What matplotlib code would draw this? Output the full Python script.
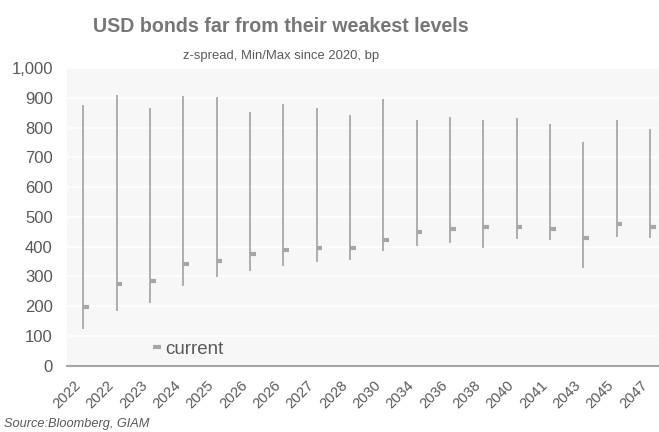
import matplotlib
matplotlib.use("Agg")
import matplotlib.pyplot as plt
import numpy as np

plt.rcParams['font.family'] = ['Liberation Sans', 'DejaVu Sans']

maturity = ['2022', '2022', '2023', '2024', '2025', '2026', '2026', '2027', '2028',
            '2030', '2034', '2036', '2038', '2040', '2041', '2043', '2045', '2047']
spread_max = [876, 909, 865, 906, 901, 852, 880, 866, 842,
              896, 825, 836, 825, 833, 813, 750, 825, 795]
spread_min = [122, 185, 210, 269, 298, 318, 334, 349, 354,
              385, 403, 413, 396, 426, 422, 327, 433, 430]
current = [197, 274, 284, 341, 352, 374, 388, 395, 396,
           422, 448, 458, 466, 467, 458, 428, 475, 466]

txt = '#595959'
line_col = '#9a9a9a'
dash_col = '#a6a6a6'

fig = plt.figure(figsize=(6.59, 4.32), dpi=100)
ax = fig.add_axes([66.7 / 659, 1 - 365.7 / 432, 600 / 659, 297.7 / 432])
ax.set_facecolor('#f7f7f7')

x = np.arange(len(maturity))
ax.vlines(x, spread_min, spread_max, color=line_col, lw=1.1, zorder=3)
ax.hlines(current, x, x + 0.17, color=dash_col, lw=3, zorder=4, label='current')

ax.set_xlim(-0.5, len(maturity) - 0.5)
ax.set_ylim(0, 1000)
ax.set_yticks(np.arange(0, 1001, 100))
ax.yaxis.set_major_formatter(matplotlib.ticker.FuncFormatter(lambda v, p: f'{int(v):,}'))
ax.set_xticks(x)
ax.set_xticklabels(maturity, rotation=45, ha='right', va='top')
ax.tick_params(axis='both', length=0, labelcolor=txt)
ax.tick_params(axis='x', pad=9, labelsize=10.5)
ax.tick_params(axis='y', pad=10, labelsize=12)
ax.grid(axis='y', color='white', lw=1.2, zorder=0)
ax.set_axisbelow(True)
for s in ['left', 'right', 'top']:
    ax.spines[s].set_visible(False)
ax.spines['bottom'].set_color('#a6a6a6')
ax.spines['bottom'].set_linewidth(1.5)

leg = ax.legend(loc='lower left', bbox_to_anchor=(0.115, -0.03), frameon=False,
                handlelength=0.45, handletextpad=0.25, fontsize=13.5)
for t in leg.get_texts():
    t.set_color(txt)

fig.text(281 / 659, 1 - 26 / 432, 'USD bonds far from their weakest levels',
         ha='center', va='center', fontsize=14.1, fontweight='bold', color='#767676')
fig.text(281 / 659, 1 - 56 / 432, 'z-spread, Min/Max since 2020, bp',
         ha='center', va='center', fontsize=9.4, color=txt)
fig.text(4 / 659, 1 - 424 / 432, 'Source:Bloomberg, GIAM',
         ha='left', va='center', fontsize=9.2, style='italic', color=txt)

fig.savefig('out.png', dpi=100)
